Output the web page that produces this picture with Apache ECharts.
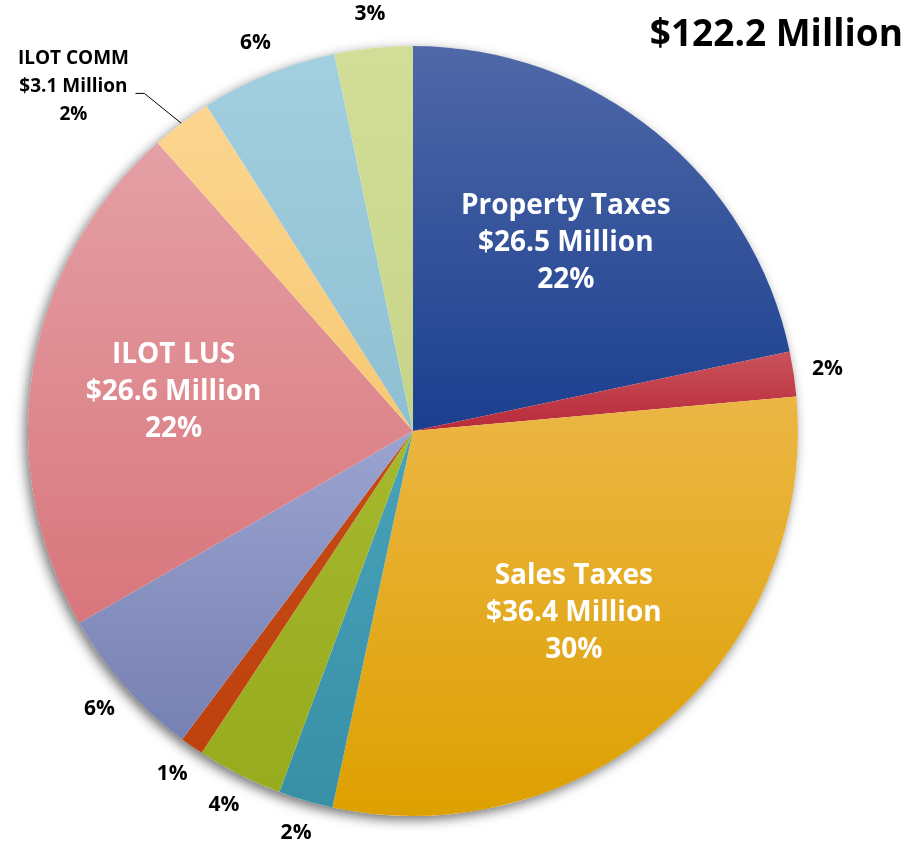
<!DOCTYPE html>
<html><head><meta charset="utf-8">
<script src="https://cdn.jsdelivr.net/npm/echarts@6/dist/echarts.min.js"></script>
<style>html,body{margin:0;padding:0;background:#fff}#c{width:911px;height:846px}</style>
</head><body><div id="c"></div>
<script>
// ---- data ----
const categories = ['Property Taxes','Other Revenue 1','Sales Taxes','Other Revenue 2','Other Revenue 3','Other Revenue 4','Other Revenue 5','ILOT LUS','ILOT COMM','Other Revenue 6','Other Revenue 7'];
const values = [26.5, 2.3, 36.4, 2.8, 4.4, 1.2, 7.9, 26.6, 3.1, 7.0, 4.0]; // $ Million
const insideLabelled = ['Property Taxes','Sales Taxes','ILOT LUS'];
const leaderLabelled = ['ILOT COMM'];
const titleSuffix = ' Million';

// ---- styles ----
const colorStops = [
  ['#4f68a8','#1b3f8f'],
  ['#c9525b','#b8293a'],
  ['#ecb645','#dda000'],
  ['#47a2ba','#3890a6'],
  ['#a6b82e','#97ab1e'],
  ['#c44a16','#bf420e'],
  ['#9ba4d0','#7680b2'],
  ['#e4a0a5','#d8767c'],
  ['#fdd590','#f6c872'],
  ['#a3cfdf','#8ec0d2'],
  ['#d2de98','#c6d488']
];
const CX = 413, CY = 431, R = 385;
const FONT = 'Open Sans';
const OUT_GAP = 34;

const total = values.reduce((a,b)=>a+b,0);
function midAngle(i){ let s=0; for(let j=0;j<i;j++) s+=values[j]; return (s+values[i]/2)/total*2*Math.PI; }

const data = categories.map((name,i)=>{
  const item = {
    name, value: values[i],
    itemStyle: { color: { type:'linear', x:0, y:0, x2:0, y2:1, colorStops:[{offset:0,color:colorStops[i][0]},{offset:1,color:colorStops[i][1]}] } }
  };
  if (insideLabelled.includes(name)) {
    item.label = { formatter: '{b}\n${c} Million\n{d}%', color:'#fff', fontSize: 28, lineHeight: 37 };
  } else if (leaderLabelled.includes(name)) {
    item.label = { formatter: '{b}\n${c} Million\n{d}%', color:'#000', fontSize: 19, lineHeight: 28 };
    item.labelLine = { show: true, lineStyle: { color:'#000', width: 1 } };
  }
  return item;
});

const chart = echarts.init(document.getElementById('c'), null, {renderer:'canvas'});
chart.setOption({
  animation: false,
  backgroundColor: '#fff',
  title: { text: '$' + total.toFixed(1) + titleSuffix, right: 3, top: 12,
    textStyle: { fontSize: 37, fontWeight: 'bold', color: '#000', fontFamily: FONT } },
  series: [
    { type: 'pie', silent: true, z: 1, center: [CX, CY], radius: R, label: {show:false}, labelLine:{show:false},
      data: [{ value: 1, itemStyle: { color: '#fff', shadowBlur: 12, shadowColor: 'rgba(0,0,0,0.55)', shadowOffsetX: -3, shadowOffsetY: 4 } }] },
    {
      type: 'pie', z: 2, center: [CX, CY], radius: R, startAngle: 90, clockwise: true,
      avoidLabelOverlap: false, percentPrecision: 0,
      itemStyle: { borderWidth: 0 },
      label: { show: true, position: 'outside', formatter: '{d}%', color: '#000', fontSize: 21, fontWeight: 'bold', fontFamily: FONT },
      labelLine: { show: false },
      labelLayout: function(p){
        const i = p.dataIndex, a = midAngle(i), sx = Math.sin(a), sy = -Math.cos(a);
        const name = categories[i];
        if (insideLabelled.includes(name)) return { x: CX + 0.63*R*sx, y: CY + 0.63*R*sy, align:'center', verticalAlign:'middle' };
        if (leaderLabelled.includes(name)) {
          const ex = CX + R*sx, ey = CY + R*sy;
          return { x: ex - 108, y: ey - 37, align:'center', verticalAlign:'middle',
                   labelLinePoints: [[ex, ey], [ex - 37, ey - 30], [ex - 46, ey - 30]] };
        }
        return { x: CX + (R+OUT_GAP)*sx, y: CY + (R+OUT_GAP)*sy, align:'center', verticalAlign:'middle' };
      },
      data
    }
  ]
});
</script></body></html>
